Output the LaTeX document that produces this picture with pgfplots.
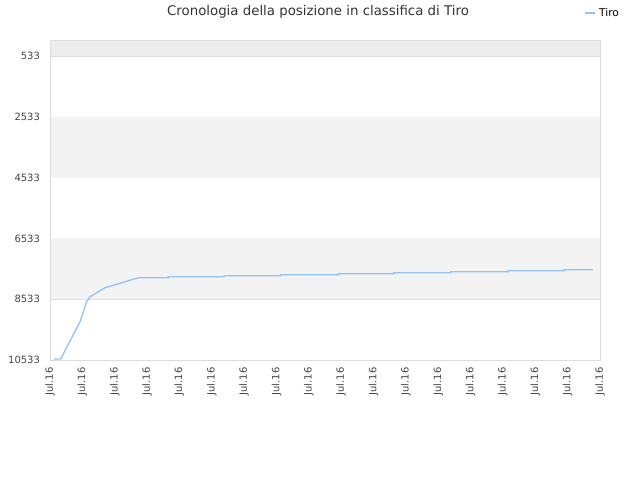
\documentclass[border=0pt]{standalone}
\usepackage{fontspec}
\setmainfont{DejaVu Sans}
\usepackage{pgfplots}
\pgfplotsset{compat=1.18}
\definecolor{lineblue}{RGB}{145,196,242}
\definecolor{bandgray}{RGB}{243,243,243}
\definecolor{topgray}{RGB}{236,236,236}
\definecolor{gridgray}{RGB}{221,221,221}
\definecolor{labelgray}{RGB}{68,68,68}
\definecolor{titlegray}{RGB}{51,51,51}

\begin{document}
\begin{tikzpicture}
\path[use as bounding box] (0,0) rectangle (480pt,360pt);
\begin{axis}[
    at={(37.5pt,90pt)}, anchor=south west,
    scale only axis,
    width=412.5pt, height=240pt,
    xmin=0, xmax=17,
    ymin=0, ymax=10533,
    y dir=reverse,
    scaled y ticks=false,
    axis line style={gridgray},
    xtick={0,...,17},
    xticklabels={Jul.16,Jul.16,Jul.16,Jul.16,Jul.16,Jul.16,Jul.16,Jul.16,Jul.16,Jul.16,Jul.16,Jul.16,Jul.16,Jul.16,Jul.16,Jul.16,Jul.16,Jul.16},
    xticklabel style={rotate=90, anchor=east, font=\fontsize{7.5}{9}\selectfont, text=labelgray},
    xticklabel shift=2pt,
    ytick={533,2533,4533,6533,8533,10533},
    yticklabels={533,2533,4533,6533,8533,10533},
    yticklabel style={font=\fontsize{7.5}{9}\selectfont, text=labelgray},
    yticklabel shift=4pt,
    major tick length=0pt,
    ymajorgrids, grid style={gridgray, line width=0.6pt},
    legend style={draw=none, fill=none, at={(axis description cs:0.970,1.083)}, anchor=west,
        font=\fontsize{8}{9}\selectfont, legend cell align=left, inner sep=0pt},
    legend image code/.code={\draw[#1, line width=1.5pt] (0pt,0pt) -- (8pt,0pt);},
    clip=false,
]
\fill[topgray] (axis cs:0,0) rectangle (axis cs:17,533);
\fill[bandgray] (axis cs:0,2533) rectangle (axis cs:17,4533);
\fill[bandgray] (axis cs:0,6533) rectangle (axis cs:17,8533);
\draw[gridgray, line width=0.6pt] (axis cs:0,0) rectangle (axis cs:17,10533);
\addplot[lineblue, line width=1pt] coordinates {
    (0.12,10500) (0.33,10500) (0.93,9273) (1.13,8615) (1.24,8451)
    (1.70,8155) (2.16,8010) (2.73,7826) (3.65,7826)
    (3.65,7793) (5.38,7793) (5.38,7760) (7.14,7760)
    (7.14,7727) (8.91,7727) (8.91,7694) (10.63,7694)
    (10.63,7661) (12.39,7661) (12.39,7628) (14.16,7628)
    (14.16,7595) (15.89,7595) (15.89,7562) (16.77,7562)
};
\addlegendentry{Tiro}
\end{axis}
\node[font=\fontsize{10}{12}\selectfont, text=titlegray] at (238.5pt,351pt) {Cronologia della posizione in classifica di Tiro};
\end{tikzpicture}
\end{document}
